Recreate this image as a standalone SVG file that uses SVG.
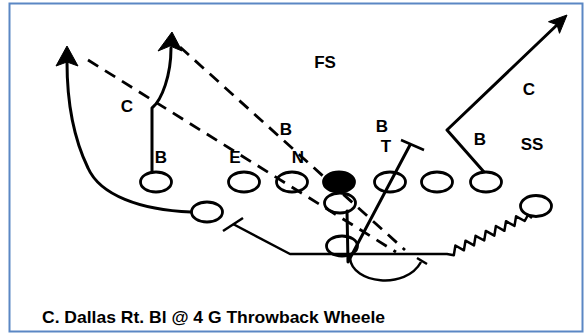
<svg xmlns="http://www.w3.org/2000/svg" width="585" height="333" viewBox="0 0 585 333">
<style>
.pl{fill:#fff;stroke:#000;stroke-width:2.8}
.op{fill:none;stroke:#000;stroke-width:2.8}
.lbl{font-family:"Liberation Sans",Arial,sans-serif;font-weight:bold;font-size:17px;fill:#000;text-anchor:middle}
.rt{fill:none;stroke:#000;stroke-width:3;stroke-linejoin:round;stroke-linecap:round}
.thin{fill:none;stroke:#000;stroke-width:2.5;stroke-linejoin:round}
.dash{fill:none;stroke:#000;stroke-width:2.8;stroke-dasharray:12 8}
.ah{fill:#000;stroke:#000;stroke-width:1}
</style>
<rect x="0" y="0" width="585" height="333" fill="#fff"/>
<rect id="frame" x="9.5" y="3.5" width="573" height="328" fill="none" stroke="#5b87c4" stroke-width="2"/>

<g id="connectors">
  <path class="dash" d="M88,60 L396,252"/>
  <path class="dash" d="M180,47 L405,250"/>
  <path class="rt" d="M191,212 C140,210 100,195 88,168 C72,135 67,95 67,62"/>
  <polygon class="ah" points="67,46 56,66 67,62 78,66"/>
  <path class="rt" d="M152,172 L152,108 C162,100 171,75 171,48"/>
  <polygon class="ah" points="172,32 158,51 170,46 182,51"/>
  <path class="rt" d="M484,172 L447,130 L558,24"/>
  <polygon class="ah" points="567,15 548.5,21.7 557,24.7 559.5,33.3"/>
  <path class="thin" d="M233,224 L290,254 L447,254 L453.8,255.2 L455.4,245.5 L463.9,250.3 L465.5,240.7 L474,245.4 L475.6,235.8 L484.2,240.5 L485.8,230.9 L494.3,235.7 L495.9,226 L504.4,230.8 L506,221.2 L514.5,225.9 L516.1,216.3 L524.7,221 L528,215 L532,218"/>
  <path class="thin" d="M223,231 L243,218"/>
  <path class="rt" d="M347,211 L348,262 L410,145"/>
  <path class="thin" d="M401,140 L424,150"/>
  <path class="thin" d="M350,258 C352,284 406,290 421,262"/>
  <path class="thin" d="M417,258 L427,264"/>
</g>

<g id="n-b-left"><ellipse class="pl" cx="156" cy="182" rx="15.5" ry="10"/></g>
<g id="n-e"><ellipse class="pl" cx="244" cy="182" rx="15.5" ry="10"/></g>
<g id="n-n"><ellipse class="op" cx="292" cy="182" rx="15.5" ry="10"/></g>
<g id="n-center"><ellipse cx="339" cy="182" rx="15.5" ry="10" fill="#000" stroke="#000" stroke-width="2.8"/></g>
<g id="n-t"><ellipse class="op" cx="390" cy="182" rx="15.5" ry="10"/></g>
<g id="n-rt"><ellipse class="pl" cx="437" cy="182" rx="15.5" ry="10"/></g>
<g id="n-te"><ellipse class="pl" cx="486" cy="182" rx="15.5" ry="10"/></g>
<g id="n-qb"><ellipse class="op" cx="340" cy="203" rx="15.5" ry="10"/></g>
<g id="n-fb"><ellipse class="op" cx="342" cy="246" rx="15.5" ry="10"/></g>
<g id="n-wing"><ellipse class="pl" cx="207" cy="212" rx="15.5" ry="10"/></g>
<g id="n-wr"><ellipse class="pl" cx="536" cy="206" rx="15.5" ry="10.5"/></g>

<g id="defense">
  <text class="lbl" x="127" y="112">C</text>
  <text class="lbl" x="161" y="163">B</text>
  <text class="lbl" x="235" y="163">E</text>
  <text class="lbl" x="286" y="135">B</text>
  <text class="lbl" x="298" y="163">N</text>
  <text class="lbl" x="325" y="68">FS</text>
  <text class="lbl" x="382" y="132">B</text>
  <text class="lbl" x="386" y="152">T</text>
  <text class="lbl" x="529" y="95">C</text>
  <text class="lbl" x="480" y="145">B</text>
  <text class="lbl" x="532" y="150">SS</text>
</g>
<text x="42" y="323" font-family="'Liberation Sans',Arial,sans-serif" font-weight="bold" font-size="17" textLength="343" lengthAdjust="spacingAndGlyphs">C. Dallas Rt. Bl @ 4 G Throwback Wheele</text>
</svg>
